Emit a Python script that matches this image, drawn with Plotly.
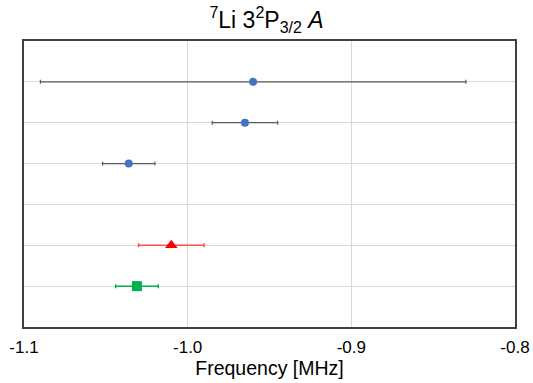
import plotly.graph_objects as go

# Data
blue_x = [-0.960, -0.965, -1.036]
blue_err = [0.130, 0.020, 0.016]
blue_y = [6, 5, 4]

red_x = [-1.010]
red_err = [0.020]
red_y = [2]

green_x = [-1.031]
green_err = [0.013]
green_y = [1]

x_ticks = [-1.1, -1.0, -0.9, -0.8]
x_tick_labels = ["-1.1", "-1.0", "-0.9", "-0.8"]

fig = go.Figure()

fig.add_trace(go.Scatter(
    x=blue_x, y=blue_y, mode="markers",
    marker=dict(color="#4472C4", size=8, symbol="circle"),
    error_x=dict(type="data", array=blue_err, color="#595959", thickness=1.2, width=2),
    showlegend=False,
))
fig.add_trace(go.Scatter(
    x=red_x, y=red_y, mode="markers",
    marker=dict(color="#FF0000", size=11, symbol="triangle-up"),
    error_x=dict(type="data", array=red_err, color="#FF5050", thickness=1.5, width=2),
    showlegend=False,
))
fig.add_trace(go.Scatter(
    x=green_x, y=green_y, mode="markers",
    marker=dict(color="#00B050", size=10, symbol="square"),
    error_x=dict(type="data", array=green_err, color="#00B050", thickness=1.5, width=2),
    showlegend=False,
))

fig.update_layout(
    width=533, height=383,
    margin=dict(l=24, r=18, t=41, b=56, autoexpand=False),
    paper_bgcolor="white", plot_bgcolor="white",
    font=dict(family="Liberation Sans, Arial, sans-serif", color="#000000"),
    title=dict(
        text="<sup><span style='font-size:16px'>7</span></sup>Li 3<sup><span style='font-size:16px'>2</span></sup>P<sub><span style='font-size:16px'>3/2</span></sub> <i>A</i>",
        x=0.5, xanchor="center", y=0.948, yanchor="middle",
        font=dict(size=23, color="#000000"),
    ),
    xaxis=dict(
        range=[-1.1, -0.8],
        tickvals=x_ticks, ticktext=x_tick_labels,
        tickfont=dict(size=17),
        ticklabelstandoff=4,
        showgrid=True, gridcolor="#D9D9D9", gridwidth=1,
        showline=True, linecolor="#404040", linewidth=1.5, mirror=True,
        zeroline=False, ticks="", automargin=False,
        title=dict(text="Frequency [MHz]", font=dict(size=19.5), standoff=3),
    ),
    yaxis=dict(
        range=[0, 7], dtick=1, tick0=0,
        showticklabels=False,
        showgrid=True, gridcolor="#D9D9D9", gridwidth=1,
        showline=True, linecolor="#404040", linewidth=1.5, mirror=True,
        zeroline=False, ticks="", automargin=False,
    ),
)

# remove the default 8px body margin so the figure fills the window exactly
fig.write_html(
    "out.html",
    config={"displayModeBar": False},
    post_script="document.body.style.margin='0';document.body.style.overflow='hidden';",
)
